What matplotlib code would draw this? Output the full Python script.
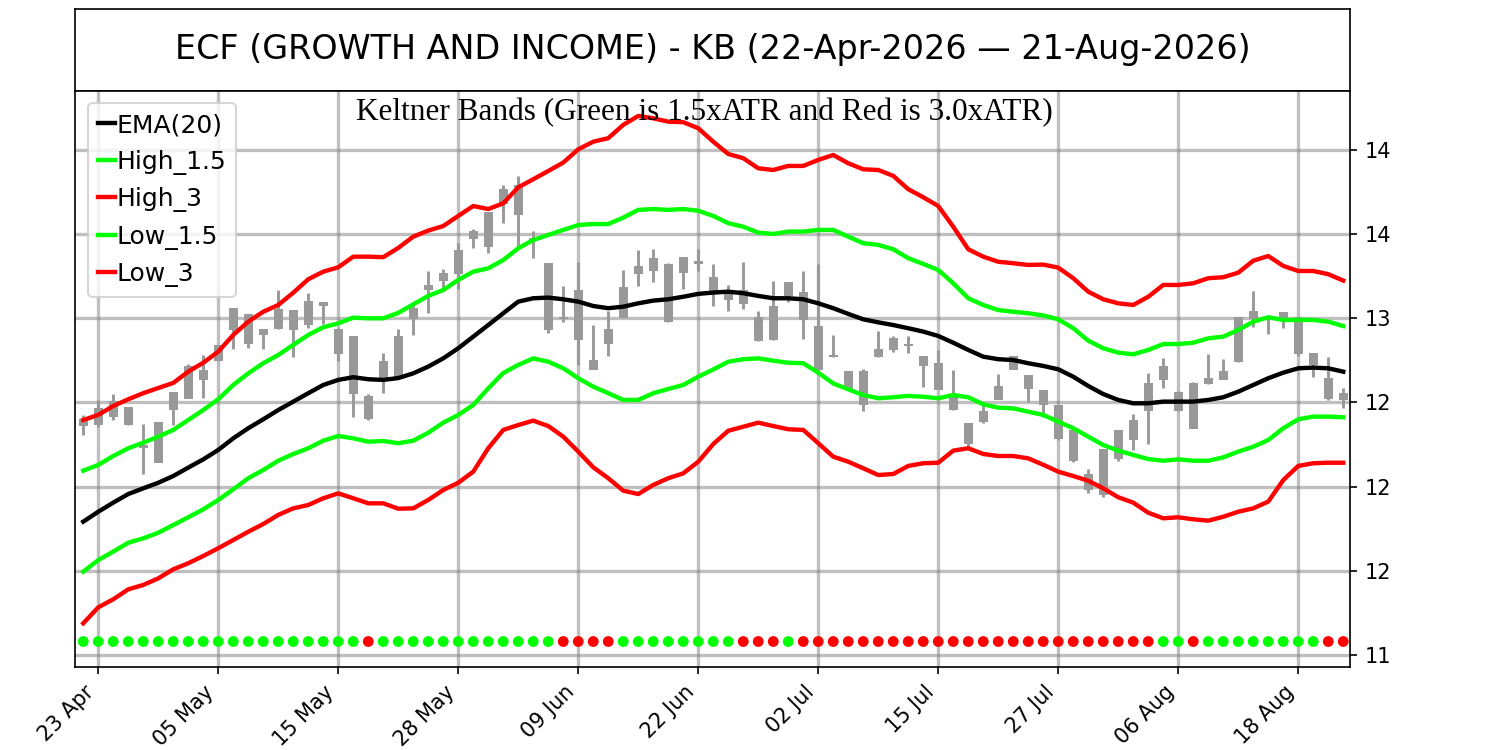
import matplotlib
matplotlib.use("Agg")
import matplotlib.pyplot as plt
import matplotlib.ticker as mticker
import numpy as np
import pandas as pd

# ---------------- data ----------------
dates = pd.bdate_range("2026-04-22", "2026-08-21", freq="C",
                       holidays=["2026-05-25", "2026-06-19", "2026-07-03"])

opens = [12.360, 12.366, 12.416, 12.471, 12.247, 12.145, 12.460, 12.525, 12.638, 12.746,
         12.931, 13.026, 12.935, 12.941, 13.045, 12.960, 13.073, 12.935, 12.895, 12.539,
         12.634, 12.645, 13.000, 13.168, 13.222, 13.267, 13.475, 13.426, 13.683, 13.792,
         13.477, 13.327, 13.008, 12.871, 12.752, 12.847, 13.004, 13.267, 13.281, 13.321,
         13.271, 13.327, 13.244, 13.168, 13.168, 13.004, 12.871, 13.133, 13.152, 12.954,
         12.782, 12.683, 12.687, 12.772, 12.812, 12.844, 12.772, 12.733, 12.544, 12.376,
         12.386, 12.519, 12.697, 12.659, 12.574, 12.485, 12.337, 12.073, 11.950, 12.168,
         12.281, 12.451, 12.638, 12.558, 12.614, 12.610, 12.638, 12.742, 13.000, 13.004,
         13.004, 13.004, 12.792, 12.644, 12.555]
highs = [12.426, 12.515, 12.550, 12.471, 12.372, 12.382, 12.561, 12.729, 12.782, 12.842,
         13.060, 13.026, 12.935, 13.168, 13.045, 13.152, 13.095, 12.941, 12.895, 12.550,
         12.792, 12.935, 13.089, 13.281, 13.293, 13.446, 13.529, 13.627, 13.792, 13.846,
         13.519, 13.327, 13.192, 13.333, 12.960, 13.045, 13.287, 13.406, 13.410, 13.330,
         13.363, 13.410, 13.323, 13.198, 13.333, 13.043, 13.224, 13.212, 13.283, 13.323,
         12.901, 12.683, 12.697, 12.926, 12.895, 12.895, 12.772, 12.812, 12.693, 12.376,
         12.495, 12.669, 12.772, 12.659, 12.574, 12.485, 12.337, 12.103, 12.222, 12.337,
         12.432, 12.677, 12.762, 12.568, 12.623, 12.786, 12.757, 13.004, 13.162, 13.014,
         13.033, 13.004, 12.792, 12.772, 12.584]
lows = [12.307, 12.354, 12.396, 12.366, 12.075, 12.145, 12.366, 12.525, 12.525, 12.746,
        12.816, 12.825, 12.818, 12.937, 12.772, 12.941, 12.964, 12.748, 12.416, 12.396,
        12.558, 12.645, 12.901, 13.033, 13.168, 13.174, 13.416, 13.390, 13.568, 13.416,
        13.357, 12.911, 12.980, 12.723, 12.697, 12.776, 13.004, 13.194, 13.214, 12.976,
        13.172, 13.283, 13.073, 13.045, 13.054, 12.867, 12.871, 13.099, 12.875, 12.663,
        12.772, 12.574, 12.451, 12.772, 12.802, 12.792, 12.594, 12.578, 12.455, 12.228,
        12.380, 12.519, 12.697, 12.505, 12.416, 12.277, 12.149, 11.960, 11.940, 12.152,
        12.218, 12.253, 12.588, 12.451, 12.347, 12.610, 12.638, 12.742, 12.950, 12.905,
        12.941, 12.778, 12.653, 12.515, 12.465]
closes = [12.400, 12.467, 12.505, 12.366, 12.234, 12.382, 12.561, 12.713, 12.693, 12.842,
          13.060, 12.852, 12.905, 13.054, 12.935, 13.099, 13.095, 12.792, 12.555, 12.406,
          12.742, 12.891, 13.060, 13.198, 13.267, 13.406, 13.519, 13.627, 13.768, 13.618,
          13.465, 12.935, 12.996, 13.168, 12.697, 12.935, 13.184, 13.307, 13.357, 12.980,
          13.363, 13.336, 13.158, 13.109, 13.089, 12.867, 13.069, 13.212, 12.990, 12.693,
          12.772, 12.574, 12.485, 12.816, 12.881, 12.839, 12.717, 12.578, 12.455, 12.258,
          12.445, 12.594, 12.772, 12.584, 12.485, 12.287, 12.154, 11.980, 12.222, 12.337,
          12.396, 12.614, 12.717, 12.451, 12.347, 12.644, 12.683, 13.004, 13.039, 12.990,
          13.033, 12.792, 12.723, 12.525, 12.519]

ema20 = [11.792, 11.851, 11.905, 11.956, 11.990, 12.023, 12.063, 12.113, 12.162, 12.218,
         12.287, 12.347, 12.400, 12.455, 12.505, 12.555, 12.604, 12.634, 12.650, 12.638,
         12.634, 12.645, 12.673, 12.713, 12.762, 12.822, 12.891, 12.960, 13.030, 13.099,
         13.119, 13.123, 13.113, 13.099, 13.073, 13.060, 13.069, 13.089, 13.105, 13.113,
         13.128, 13.145, 13.153, 13.158, 13.149, 13.133, 13.119, 13.119, 13.113, 13.089,
         13.060, 13.026, 12.994, 12.976, 12.960, 12.941, 12.921, 12.895, 12.855, 12.812,
         12.772, 12.757, 12.752, 12.733, 12.717, 12.697, 12.653, 12.598, 12.550, 12.515,
         12.495, 12.495, 12.505, 12.505, 12.505, 12.515, 12.531, 12.564, 12.604, 12.644,
         12.677, 12.703, 12.707, 12.703, 12.683]
high_15 = [12.095, 12.129, 12.182, 12.228, 12.261, 12.297, 12.337, 12.396, 12.455, 12.519,
           12.604, 12.673, 12.733, 12.782, 12.842, 12.901, 12.947, 12.970, 13.004, 13.000,
           13.000, 13.032, 13.083, 13.133, 13.168, 13.228, 13.277, 13.297, 13.346, 13.416,
           13.465, 13.495, 13.525, 13.554, 13.560, 13.560, 13.598, 13.644, 13.649, 13.644,
           13.649, 13.639, 13.608, 13.565, 13.544, 13.509, 13.501, 13.515, 13.515, 13.525,
           13.525, 13.485, 13.446, 13.436, 13.410, 13.357, 13.323, 13.287, 13.208, 13.119,
           13.079, 13.049, 13.039, 13.030, 13.017, 12.994, 12.941, 12.867, 12.822, 12.796,
           12.786, 12.812, 12.847, 12.847, 12.855, 12.881, 12.891, 12.931, 12.980, 13.006,
           12.990, 12.990, 12.990, 12.980, 12.954]
high_3 = [12.396, 12.426, 12.479, 12.519, 12.555, 12.586, 12.616, 12.683, 12.736, 12.802,
          12.901, 12.980, 13.039, 13.079, 13.152, 13.232, 13.277, 13.303, 13.366, 13.366,
          13.363, 13.418, 13.485, 13.521, 13.548, 13.608, 13.667, 13.649, 13.683, 13.778,
          13.826, 13.875, 13.925, 14.004, 14.049, 14.070, 14.149, 14.202, 14.188, 14.168,
          14.165, 14.129, 14.049, 13.976, 13.951, 13.891, 13.881, 13.905, 13.905, 13.941,
          13.970, 13.921, 13.885, 13.881, 13.846, 13.767, 13.719, 13.667, 13.544, 13.410,
          13.366, 13.336, 13.327, 13.317, 13.319, 13.301, 13.238, 13.158, 13.113, 13.089,
          13.079, 13.128, 13.198, 13.198, 13.208, 13.238, 13.244, 13.271, 13.342, 13.370,
          13.311, 13.281, 13.281, 13.262, 13.224]
low_15 = [11.495, 11.564, 11.614, 11.667, 11.693, 11.726, 11.772, 11.818, 11.865, 11.921,
          11.984, 12.050, 12.099, 12.154, 12.194, 12.228, 12.273, 12.301, 12.287, 12.267,
          12.271, 12.258, 12.273, 12.320, 12.380, 12.426, 12.485, 12.584, 12.675, 12.723,
          12.762, 12.742, 12.703, 12.644, 12.594, 12.555, 12.515, 12.515, 12.555, 12.580,
          12.604, 12.653, 12.696, 12.742, 12.757, 12.762, 12.748, 12.736, 12.733, 12.677,
          12.613, 12.578, 12.544, 12.525, 12.531, 12.539, 12.534, 12.525, 12.544, 12.531,
          12.489, 12.469, 12.465, 12.445, 12.426, 12.386, 12.347, 12.297, 12.247, 12.214,
          12.188, 12.164, 12.154, 12.162, 12.154, 12.154, 12.174, 12.208, 12.237, 12.277,
          12.347, 12.400, 12.416, 12.416, 12.412]
low_3 = [11.188, 11.283, 11.331, 11.390, 11.416, 11.455, 11.509, 11.545, 11.588, 11.634,
         11.683, 11.732, 11.778, 11.832, 11.871, 11.891, 11.931, 11.960, 11.931, 11.901,
         11.901, 11.869, 11.871, 11.921, 11.980, 12.023, 12.089, 12.228, 12.337, 12.366,
         12.392, 12.360, 12.297, 12.208, 12.115, 12.050, 11.976, 11.956, 12.010, 12.050,
         12.079, 12.148, 12.253, 12.332, 12.356, 12.380, 12.360, 12.341, 12.337, 12.258,
         12.178, 12.148, 12.109, 12.069, 12.075, 12.123, 12.139, 12.142, 12.214, 12.228,
         12.194, 12.182, 12.182, 12.168, 12.130, 12.089, 12.063, 12.035, 11.990, 11.937,
         11.905, 11.845, 11.812, 11.818, 11.806, 11.798, 11.821, 11.851, 11.871, 11.911,
         12.039, 12.123, 12.139, 12.142, 12.142]

# signal dots: 'g' = green, 'r' = red
signal = list("ggggggggggggggggggg" "r" "gggggggggggg" "rrrr" "gggggggg" "rrr" "g"
              "rrrrrrrrrrrrrrrrrrrrrrrr" "gg" "r" "gggggggg" "rr")
signal_level = 11.08

tick_labels = ["23 Apr", "05 May", "15 May", "28 May", "09 Jun", "22 Jun",
               "02 Jul", "15 Jul", "27 Jul", "06 Aug", "18 Aug"]
ytick_vals = [11.0, 11.5, 12.0, 12.5, 13.0, 13.5, 14.0]

title = "ECF (GROWTH AND INCOME) - KB (22-Apr-2026 \u2014 21-Aug-2026)"
subtitle = "Keltner Bands (Green is 1.5xATR and Red is 3.0xATR)"

# ---------------- figure ----------------
fig = plt.figure(figsize=(10, 5), dpi=150)
main_bottom, main_h = 0.1103, 0.7690
main_top = main_bottom + main_h
ax_t = fig.add_axes([0.05, main_top, 0.85, 0.988 - main_top])
ax_t.set_xticks([]); ax_t.set_yticks([])
ax_t.text(0.5, 0.5, title, ha="center", va="center", fontsize=16,
          transform=ax_t.transAxes)

ax = fig.add_axes([0.05, main_bottom, 0.85, main_h])
x = np.arange(len(dates))
o = np.array(opens); c = np.array(closes); h = np.array(highs); l = np.array(lows)
candle_col = "#999999"
ax.vlines(x, l, h, color=candle_col, linewidth=1.4, zorder=2)
ax.bar(x, np.abs(c - o) + 0.004, bottom=np.minimum(o, c) - 0.002, width=0.62,
       color=candle_col, zorder=2)

lw = 2.1
ax.plot(x, ema20, color="black", lw=lw, label="EMA(20)", zorder=3)
ax.plot(x, high_15, color="#00ff00", lw=lw, label="High_1.5", zorder=3)
ax.plot(x, high_3, color="#ff0000", lw=lw, label="High_3", zorder=3)
ax.plot(x, low_15, color="#00ff00", lw=lw, label="Low_1.5", zorder=3)
ax.plot(x, low_3, color="#ff0000", lw=lw, label="Low_3", zorder=3)

cols = ["#00ff00" if s == "g" else "#ff0000" for s in signal]
ax.scatter(x, [signal_level] * len(x), c=cols, s=27, zorder=3, linewidths=0)

ax.set_xlim(-0.55, 84.45)
ax.set_ylim(10.927, 14.353)

date_strs = [d.strftime("%d %b") for d in dates]
tick_pos = [date_strs.index(t) for t in tick_labels]
ax.set_xticks(tick_pos)
ax.set_xticklabels(tick_labels, rotation=45, ha="right", fontsize=10)
ax.yaxis.tick_right()
ax.set_yticks(ytick_vals)
ax.yaxis.set_major_formatter(mticker.FormatStrFormatter("%.0f"))
ax.tick_params(axis="y", labelsize=10)
ax.grid(True, color="#808080", alpha=0.5, linewidth=1.6, zorder=0)
ax.set_axisbelow(True)

ax.text(0.494, 0.987, subtitle, transform=ax.transAxes, ha="center", va="top",
        fontsize=15, family="Liberation Serif")

ax.legend(loc="upper left", fontsize=12, handlelength=0.7, handletextpad=0.05,
          borderaxespad=0.5)

fig.savefig("out.png", dpi=150)
